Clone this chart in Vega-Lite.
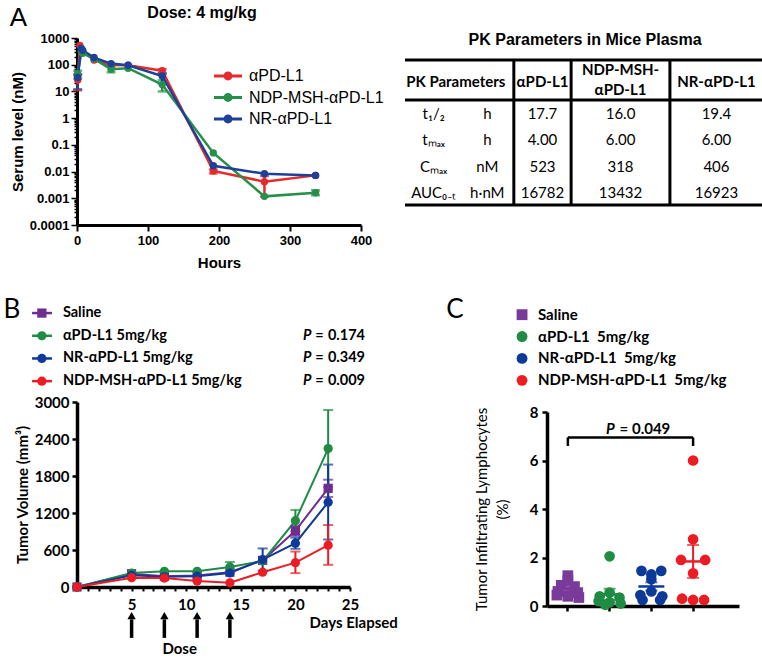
{
  "$schema": "https://vega.github.io/schema/vega-lite/v6.json",
  "padding": {"left": 3, "top": 4, "right": 2, "bottom": 0},
  "background": "white",
  "config": {
    "view": {"stroke": "transparent"},
    "font": "Lato",
    "axis": {"grid": false, "domainColor": "black", "tickColor": "black", "labelColor": "black", "titleColor": "black", "labelFontWeight": "bold", "titleFontWeight": "bold", "labelFlush": false, "labelOverlap": false, "labelBound": false},
    "title": {"color": "black"},
    "legend": {"labelColor": "black"}
  },
  "datasets": {
    "pk": [
      {"s": "αPD-L1", "t": 1, "v": 27, "lo": 11, "hi": 40},
      {"s": "αPD-L1", "t": 4, "v": 523},
      {"s": "αPD-L1", "t": 8, "v": 330},
      {"s": "αPD-L1", "t": 24, "v": 150},
      {"s": "αPD-L1", "t": 48, "v": 98},
      {"s": "αPD-L1", "t": 72, "v": 95},
      {"s": "αPD-L1", "t": 120, "v": 60, "lo": 45, "hi": 68},
      {"s": "αPD-L1", "t": 192, "v": 0.0105, "lo": 0.0085, "hi": 0.012},
      {"s": "αPD-L1", "t": 264, "v": 0.0042, "lo": 0.00115, "hi": 0.0068},
      {"s": "αPD-L1", "t": 336, "v": 0.0072},
      {"s": "NDP-MSH-αPD-L1", "t": 1, "v": 45, "lo": 30, "hi": 60},
      {"s": "NDP-MSH-αPD-L1", "t": 6, "v": 318},
      {"s": "NDP-MSH-αPD-L1", "t": 8, "v": 270},
      {"s": "NDP-MSH-αPD-L1", "t": 24, "v": 165},
      {"s": "NDP-MSH-αPD-L1", "t": 48, "v": 68, "lo": 52, "hi": 84},
      {"s": "NDP-MSH-αPD-L1", "t": 72, "v": 74},
      {"s": "NDP-MSH-αPD-L1", "t": 120, "v": 18, "lo": 10, "hi": 26},
      {"s": "NDP-MSH-αPD-L1", "t": 192, "v": 0.05},
      {"s": "NDP-MSH-αPD-L1", "t": 264, "v": 0.00118},
      {"s": "NDP-MSH-αPD-L1", "t": 336, "v": 0.0016, "lo": 0.0013, "hi": 0.002},
      {"s": "NR-αPD-L1", "t": 1, "v": 33, "lo": 12, "hi": 44},
      {"s": "NR-αPD-L1", "t": 6, "v": 406},
      {"s": "NR-αPD-L1", "t": 8, "v": 350},
      {"s": "NR-αPD-L1", "t": 24, "v": 185},
      {"s": "NR-αPD-L1", "t": 48, "v": 110},
      {"s": "NR-αPD-L1", "t": 72, "v": 96},
      {"s": "NR-αPD-L1", "t": 120, "v": 38, "lo": 20, "hi": 48},
      {"s": "NR-αPD-L1", "t": 192, "v": 0.0165},
      {"s": "NR-αPD-L1", "t": 264, "v": 0.0083},
      {"s": "NR-αPD-L1", "t": 336, "v": 0.0072}
    ],
    "tbl": [
      {"i": 1, "param": "t₁/₂", "unit": "h", "a": "17.7", "n": "16.0", "r": "19.4"},
      {"i": 2, "param": "tₘₐₓ", "unit": "h", "a": "4.00", "n": "6.00", "r": "6.00"},
      {"i": 3, "param": "Cₘₐₓ", "unit": "nM", "a": "523", "n": "318", "r": "406"},
      {"i": 4, "param": "AUC₀₋ₜ", "unit": "h·nM", "a": "16782", "n": "13432", "r": "16923"}
    ],
    "tumor": [
      {"s": "Saline", "d": 0, "v": 0},
      {"s": "Saline", "d": 5, "v": 216},
      {"s": "Saline", "d": 8, "v": 173},
      {"s": "Saline", "d": 11, "v": 185},
      {"s": "Saline", "d": 14, "v": 240},
      {"s": "Saline", "d": 17, "v": 432},
      {"s": "Saline", "d": 20, "v": 912, "lo": 830, "hi": 995},
      {"s": "Saline", "d": 23, "v": 1600, "lo": 1460, "hi": 1740},
      {"s": "αPD-L1 5mg/kg", "d": 0, "v": 0},
      {"s": "αPD-L1 5mg/kg", "d": 5, "v": 227},
      {"s": "αPD-L1 5mg/kg", "d": 8, "v": 254},
      {"s": "αPD-L1 5mg/kg", "d": 11, "v": 254},
      {"s": "αPD-L1 5mg/kg", "d": 14, "v": 324, "lo": 243, "hi": 405},
      {"s": "αPD-L1 5mg/kg", "d": 17, "v": 421},
      {"s": "αPD-L1 5mg/kg", "d": 20, "v": 1075, "lo": 900, "hi": 1250},
      {"s": "αPD-L1 5mg/kg", "d": 23, "v": 2245, "lo": 1620, "hi": 2870},
      {"s": "NR-αPD-L1 5mg/kg", "d": 0, "v": 0},
      {"s": "NR-αPD-L1 5mg/kg", "d": 5, "v": 189},
      {"s": "NR-αPD-L1 5mg/kg", "d": 8, "v": 165},
      {"s": "NR-αPD-L1 5mg/kg", "d": 11, "v": 175},
      {"s": "NR-αPD-L1 5mg/kg", "d": 14, "v": 227},
      {"s": "NR-αPD-L1 5mg/kg", "d": 17, "v": 445, "lo": 265, "hi": 625},
      {"s": "NR-αPD-L1 5mg/kg", "d": 20, "v": 710, "lo": 620, "hi": 800},
      {"s": "NR-αPD-L1 5mg/kg", "d": 23, "v": 1375, "lo": 770, "hi": 1985},
      {"s": "NDP-MSH-αPD-L1 5mg/kg", "d": 0, "v": 0},
      {"s": "NDP-MSH-αPD-L1 5mg/kg", "d": 5, "v": 151},
      {"s": "NDP-MSH-αPD-L1 5mg/kg", "d": 8, "v": 145},
      {"s": "NDP-MSH-αPD-L1 5mg/kg", "d": 11, "v": 97},
      {"s": "NDP-MSH-αPD-L1 5mg/kg", "d": 14, "v": 68},
      {"s": "NDP-MSH-αPD-L1 5mg/kg", "d": 17, "v": 240},
      {"s": "NDP-MSH-αPD-L1 5mg/kg", "d": 20, "v": 395, "lo": 225, "hi": 575},
      {"s": "NDP-MSH-αPD-L1 5mg/kg", "d": 23, "v": 678, "lo": 360, "hi": 1005}
    ],
    "dose": [{"d": 5}, {"d": 8}, {"d": 11}, {"d": 14}],
    "series": [
      {"s": "Saline", "i": 1, "c": "Saline"},
      {"s": "αPD-L1 5mg/kg", "i": 2, "p": "0.174", "c": "αPD-L1 \u00a05mg/kg"},
      {"s": "NR-αPD-L1 5mg/kg", "i": 3, "p": "0.349", "c": "NR-αPD-L1 \u00a05mg/kg"},
      {"s": "NDP-MSH-αPD-L1 5mg/kg", "i": 4, "p": "0.009", "c": "NDP-MSH-αPD-L1 \u00a05mg/kg"}
    ],
    "til": [
      {"g": "Saline", "v": 1.25, "slot": 0},
      {"g": "Saline", "v": 1.05, "slot": 0},
      {"g": "Saline", "v": 0.85, "slot": -0.6},
      {"g": "Saline", "v": 0.8, "slot": 0.6},
      {"g": "Saline", "v": 0.6, "slot": -0.9},
      {"g": "Saline", "v": 0.55, "slot": 0.9},
      {"g": "Saline", "v": 0.45, "slot": -1},
      {"g": "Saline", "v": 0.4, "slot": 0},
      {"g": "Saline", "v": 0.35, "slot": 1},
      {"g": "αPD-L1 5mg/kg", "v": 2.05, "slot": 0},
      {"g": "αPD-L1 5mg/kg", "v": 0.55, "slot": 0},
      {"g": "αPD-L1 5mg/kg", "v": 0.4, "slot": -0.9},
      {"g": "αPD-L1 5mg/kg", "v": 0.35, "slot": 0.9},
      {"g": "αPD-L1 5mg/kg", "v": 0.2, "slot": -1},
      {"g": "αPD-L1 5mg/kg", "v": 0.15, "slot": 0},
      {"g": "αPD-L1 5mg/kg", "v": 0.1, "slot": 1},
      {"g": "αPD-L1 5mg/kg", "v": 0.05, "slot": -0.4},
      {"g": "NR-αPD-L1 5mg/kg", "v": 1.45, "slot": -0.9},
      {"g": "NR-αPD-L1 5mg/kg", "v": 1.45, "slot": 0.9},
      {"g": "NR-αPD-L1 5mg/kg", "v": 1.3, "slot": 0},
      {"g": "NR-αPD-L1 5mg/kg", "v": 1.1, "slot": 0},
      {"g": "NR-αPD-L1 5mg/kg", "v": 0.6, "slot": 0},
      {"g": "NR-αPD-L1 5mg/kg", "v": 0.45, "slot": -1},
      {"g": "NR-αPD-L1 5mg/kg", "v": 0.4, "slot": 1},
      {"g": "NR-αPD-L1 5mg/kg", "v": 0.25, "slot": -0.8},
      {"g": "NR-αPD-L1 5mg/kg", "v": 0.25, "slot": 0.8},
      {"g": "NDP-MSH-αPD-L1 5mg/kg", "v": 6.0, "slot": 0},
      {"g": "NDP-MSH-αPD-L1 5mg/kg", "v": 2.75, "slot": 0},
      {"g": "NDP-MSH-αPD-L1 5mg/kg", "v": 1.9, "slot": -1.1},
      {"g": "NDP-MSH-αPD-L1 5mg/kg", "v": 1.9, "slot": 1.1},
      {"g": "NDP-MSH-αPD-L1 5mg/kg", "v": 1.35, "slot": 0},
      {"g": "NDP-MSH-αPD-L1 5mg/kg", "v": 0.3, "slot": -1},
      {"g": "NDP-MSH-αPD-L1 5mg/kg", "v": 0.25, "slot": 0},
      {"g": "NDP-MSH-αPD-L1 5mg/kg", "v": 0.25, "slot": 1}
    ]
  },
  "resolve": {"scale": {"x": "independent", "y": "independent", "color": "independent", "shape": "independent"}},
  "spacing": 22,
  "vconcat": [
    {
      "title": {"text": "A", "anchor": "start", "frame": "bounds", "font": "Liberation Sans", "fontSize": 26, "fontWeight": "normal", "offset": 0, "dy": 26},
      "resolve": {"scale": {"x": "independent", "y": "independent", "color": "independent", "shape": "independent"}},
      "spacing": 18,
      "hconcat": [
        {
          "width": 284, "height": 187,
          "title": {"text": "Dose: 4 mg/kg", "font": "Liberation Sans", "fontSize": 16, "fontWeight": "bold", "anchor": "middle", "dx": -17, "offset": 11},
          "data": {"name": "pk"},
          "resolve": {"scale": {"color": "independent"}},
          "layer": [
            {
              "transform": [{"filter": "isValid(datum.lo)"}],
              "mark": {"type": "errorbar", "ticks": true, "size": 9, "thickness": 2.5},
              "encoding": {
                "x": {"field": "t", "type": "quantitative", "scale": {"domain": [0, 400], "nice": false},
                  "axis": {"values": [0, 100, 200, 300, 400], "title": "Hours", "labelFont": "Liberation Sans", "labelFontSize": 13, "titleFont": "Liberation Sans", "titleFontSize": 15, "domainWidth": 3, "tickWidth": 2, "tickSize": 6, "labelPadding": 3, "titlePadding": 8}},
                "y": {"field": "lo", "type": "quantitative", "scale": {"type": "log", "domain": [0.0001, 1000], "nice": false},
                  "axis": {"title": "Serum level (nM)", "format": "~g", "labelOverlap": false,
                    "values": [0.0001, 0.0002, 0.0003, 0.0004, 0.0005, 0.0006, 0.0007, 0.0008, 0.0009, 0.001, 0.002, 0.003, 0.004, 0.005, 0.006, 0.007, 0.008, 0.009, 0.01, 0.02, 0.03, 0.04, 0.05, 0.06, 0.07, 0.08, 0.09, 0.1, 0.2, 0.3, 0.4, 0.5, 0.6, 0.7, 0.8, 0.9, 1, 2, 3, 4, 5, 6, 7, 8, 9, 10, 20, 30, 40, 50, 60, 70, 80, 90, 100, 200, 300, 400, 500, 600, 700, 800, 900, 1000],
                    "labelExpr": "abs(log(datum.value)/LN10 - round(log(datum.value)/LN10)) < 0.001 ? datum.label : ''",
                    "tickSize": {"condition": {"test": "abs(log(datum.value)/LN10 - round(log(datum.value)/LN10)) < 0.001", "value": 6}, "value": 3},
                    "labelFont": "Liberation Sans", "labelFontSize": 13, "titleFont": "Liberation Sans", "titleFontSize": 15, "domainWidth": 3, "tickWidth": 1.5, "labelPadding": 2, "titlePadding": 4}},
                "y2": {"field": "hi"},
                "color": {"field": "s", "type": "nominal", "scale": {"domain": ["αPD-L1", "NDP-MSH-αPD-L1", "NR-αPD-L1"], "range": ["#e52a2d", "#26904a", "#1d4099"]}, "legend": null}
              }
            },
            {
              "mark": {"type": "line", "strokeWidth": 2.5},
              "encoding": {
                "x": {"field": "t", "type": "quantitative", "scale": {"domain": [0, 400], "nice": false}},
                "y": {"field": "v", "type": "quantitative", "scale": {"type": "log", "domain": [0.0001, 1000], "nice": false}},
                "color": {"field": "s", "type": "nominal", "scale": {"domain": ["αPD-L1", "NDP-MSH-αPD-L1", "NR-αPD-L1"], "range": ["#e52a2d", "#26904a", "#1d4099"]}, "legend": null}
              }
            },
            {
              "mark": {"type": "point", "filled": true, "size": 55, "opacity": 1},
              "encoding": {
                "x": {"field": "t", "type": "quantitative", "scale": {"domain": [0, 400], "nice": false}},
                "y": {"field": "v", "type": "quantitative", "scale": {"type": "log", "domain": [0.0001, 1000], "nice": false}},
                "color": {"field": "s", "type": "nominal", "scale": {"domain": ["αPD-L1", "NDP-MSH-αPD-L1", "NR-αPD-L1"], "range": ["#e52a2d", "#26904a", "#1d4099"]},
                  "legend": {"orient": "none", "legendX": 143, "legendY": 30, "title": null, "padding": 0,
                    "symbolType": "M-2,-0.2H2V0.2H-2Z M-0.64,0A0.64,0.64,0,1,1,0.64,0A0.64,0.64,0,1,1,-0.64,0Z",
                    "symbolSize": 196, "symbolStrokeWidth": 0, "labelFont": "Liberation Sans", "labelFontSize": 16, "labelOffset": 13, "rowPadding": 5.5}}
              }
            }
          ]
        },
        {
          "width": 358, "height": 172,
          "data": {"name": "tbl"},
          "layer": [
            {"data": {"values": [{}]}, "mark": {"type": "rule", "strokeWidth": 3, "color": "black"},
              "encoding": {"x": {"datum": 0, "type": "quantitative", "scale": {"domain": [0, 100], "nice": false, "zero": false}, "axis": null}, "x2": {"datum": 100},
                "y": {"datum": -1.05, "type": "quantitative", "scale": {"domain": [-1.89, 4.65], "reverse": true, "nice": false, "zero": false}, "axis": null}}},
            {"data": {"values": [{}]}, "mark": {"type": "rule", "strokeWidth": 3, "color": "black"},
              "encoding": {"x": {"datum": 0, "type": "quantitative"}, "x2": {"datum": 100}, "y": {"datum": 0.47, "type": "quantitative"}}},
            {"data": {"values": [{}]}, "mark": {"type": "rule", "strokeWidth": 3, "color": "black"},
              "encoding": {"x": {"datum": 0, "type": "quantitative"}, "x2": {"datum": 100}, "y": {"datum": 4.46, "type": "quantitative"}}},
            {"data": {"values": [{}]}, "mark": {"type": "rule", "strokeWidth": 3, "color": "black"},
              "encoding": {"x": {"datum": 30.4, "type": "quantitative"}, "y": {"datum": -1.05, "type": "quantitative"}, "y2": {"datum": 4.46}}},
            {"data": {"values": [{}]}, "mark": {"type": "rule", "strokeWidth": 3, "color": "black"},
              "encoding": {"x": {"datum": 46.4, "type": "quantitative"}, "y": {"datum": -1.05, "type": "quantitative"}, "y2": {"datum": 4.46}}},
            {"data": {"values": [{}]}, "mark": {"type": "rule", "strokeWidth": 3, "color": "black"},
              "encoding": {"x": {"datum": 74, "type": "quantitative"}, "y": {"datum": -1.05, "type": "quantitative"}, "y2": {"datum": 4.46}}},
            {"data": {"values": [{}]}, "mark": {"type": "text", "text": "PK Parameters in Mice Plasma", "font": "Liberation Sans", "fontSize": 16, "fontWeight": "bold"},
              "encoding": {"x": {"datum": 50.3, "type": "quantitative"}, "y": {"datum": -1.81, "type": "quantitative"}}},
            {"data": {"values": [{}]}, "mark": {"type": "text", "text": "PK Parameters", "fontSize": 15, "fontWeight": "bold"},
              "encoding": {"x": {"datum": 14.2, "type": "quantitative"}, "y": {"datum": -0.22, "type": "quantitative"}}},
            {"data": {"values": [{}]}, "mark": {"type": "text", "text": "αPD-L1", "fontSize": 15, "fontWeight": "bold"},
              "encoding": {"x": {"datum": 38.4, "type": "quantitative"}, "y": {"datum": -0.22, "type": "quantitative"}}},
            {"data": {"values": [{}]}, "mark": {"type": "text", "text": "NDP-MSH-", "fontSize": 15, "fontWeight": "bold"},
              "encoding": {"x": {"datum": 60.2, "type": "quantitative"}, "y": {"datum": -0.67, "type": "quantitative"}}},
            {"data": {"values": [{}]}, "mark": {"type": "text", "text": "αPD-L1", "fontSize": 15, "fontWeight": "bold"},
              "encoding": {"x": {"datum": 60.2, "type": "quantitative"}, "y": {"datum": 0.09, "type": "quantitative"}}},
            {"data": {"values": [{}]}, "mark": {"type": "text", "text": "NR-αPD-L1", "fontSize": 15, "fontWeight": "bold"},
              "encoding": {"x": {"datum": 87.0, "type": "quantitative"}, "y": {"datum": -0.22, "type": "quantitative"}}},
            {"mark": {"type": "text", "fontSize": 15},
              "encoding": {"x": {"datum": 8, "type": "quantitative"}, "y": {"field": "i", "type": "quantitative"}, "text": {"field": "param"}}},
            {"mark": {"type": "text", "fontSize": 15},
              "encoding": {"x": {"datum": 23, "type": "quantitative"}, "y": {"field": "i", "type": "quantitative"}, "text": {"field": "unit"}}},
            {"mark": {"type": "text", "fontSize": 15},
              "encoding": {"x": {"datum": 38.4, "type": "quantitative"}, "y": {"field": "i", "type": "quantitative"}, "text": {"field": "a"}}},
            {"mark": {"type": "text", "fontSize": 15},
              "encoding": {"x": {"datum": 60.2, "type": "quantitative"}, "y": {"field": "i", "type": "quantitative"}, "text": {"field": "n"}}},
            {"mark": {"type": "text", "fontSize": 15},
              "encoding": {"x": {"datum": 87.0, "type": "quantitative"}, "y": {"field": "i", "type": "quantitative"}, "text": {"field": "r"}}}
          ]
        }
      ]
    },
    {
      "resolve": {"scale": {"x": "independent", "y": "independent", "color": "independent", "shape": "independent"}},
      "spacing": 46,
      "hconcat": [
        {
          "resolve": {"scale": {"x": "independent", "y": "independent", "color": "independent", "shape": "independent"}},
          "spacing": 3,
          "vconcat": [
            {
              "width": 288, "height": 96,
              "data": {"name": "series"},
              "encoding": {"y": {"field": "i", "type": "quantitative", "scale": {"domain": [0.16, 4.39], "reverse": true, "nice": false, "zero": false}, "axis": null}},
              "layer": [
                {"mark": {"type": "rule", "strokeWidth": 2.5},
                  "encoding": {"x": {"datum": -15.6, "type": "quantitative", "scale": {"domain": [0, 100], "nice": false, "zero": false}, "axis": null}, "x2": {"datum": -8.7},
                    "color": {"field": "s", "type": "nominal", "scale": {"domain": ["Saline", "αPD-L1 5mg/kg", "NR-αPD-L1 5mg/kg", "NDP-MSH-αPD-L1 5mg/kg"], "range": ["#6f2c91", "#1f8b43", "#0d3a99", "#ec1c24"]}, "legend": null}}},
                {"mark": {"type": "point", "filled": true, "size": 85, "opacity": 1},
                  "encoding": {"x": {"datum": -12.2, "type": "quantitative"},
                    "color": {"field": "s", "type": "nominal", "scale": {"domain": ["Saline", "αPD-L1 5mg/kg", "NR-αPD-L1 5mg/kg", "NDP-MSH-αPD-L1 5mg/kg"], "range": ["#6f2c91", "#1f8b43", "#0d3a99", "#ec1c24"]}, "legend": null},
                    "shape": {"field": "s", "type": "nominal", "scale": {"domain": ["Saline", "αPD-L1 5mg/kg", "NR-αPD-L1 5mg/kg", "NDP-MSH-αPD-L1 5mg/kg"], "range": ["square", "circle", "circle", "circle"]}, "legend": null}}},
                {"mark": {"type": "text", "align": "left", "fontSize": 14.5, "fontWeight": "bold"},
                  "encoding": {"x": {"datum": -4.9, "type": "quantitative"}, "text": {"field": "s"}}},
                {"transform": [{"filter": "isValid(datum.p)"}],
                  "mark": {"type": "text", "text": "P", "align": "right", "fontSize": 14.5, "fontWeight": "bold", "fontStyle": "italic"},
                  "encoding": {"x": {"datum": 81.4, "type": "quantitative"}}},
                {"transform": [{"filter": "isValid(datum.p)"}],
                  "mark": {"type": "text", "text": "=", "align": "center", "fontSize": 14.5, "fontWeight": "bold"},
                  "encoding": {"x": {"datum": 84.2, "type": "quantitative"}}},
                {"transform": [{"filter": "isValid(datum.p)"}],
                  "mark": {"type": "text", "align": "right", "fontSize": 14.5, "fontWeight": "bold"},
                  "encoding": {"x": {"datum": 100, "type": "quantitative"}, "text": {"field": "p"}}},
                {"transform": [{"filter": "datum.i === 1"}],
                  "mark": {"type": "text", "text": "B", "fontSize": 26, "dy": -3, "color": "black"},
                  "encoding": {"x": {"datum": -22.6, "type": "quantitative"}}}
              ]
            },
            {
              "width": 273, "height": 185,
              "layer": [
                {"data": {"name": "tumor"},
                  "mark": {"type": "line", "strokeWidth": 2},
                  "encoding": {
                    "x": {"field": "d", "type": "quantitative", "scale": {"domain": [0, 25], "nice": false},
                      "axis": {"values": [1, 2, 3, 4, 5, 6, 7, 8, 9, 10, 11, 12, 13, 14, 15, 16, 17, 18, 19, 20, 21, 22, 23, 24, 25], "tickCount": 40, "format": "d", "labelExpr": "datum.value % 5 === 0 ? datum.label : ''", "labelOverlap": false, "title": null, "labelFontSize": 15, "tickSize": 4, "tickWidth": 2, "domainWidth": 3.5, "labelPadding": 6}},
                    "y": {"field": "v", "type": "quantitative", "scale": {"domain": [0, 3000], "nice": false},
                      "axis": {"values": [0, 600, 1200, 1800, 2400, 3000], "tickCount": 12, "format": "d", "labelOverlap": false, "title": "Tumor Volume (mm³)", "labelFontSize": 15, "titleFontSize": 15, "tickSize": 5, "tickWidth": 2.5, "domainWidth": 3.5, "labelPadding": 3, "titlePadding": 4}},
                    "color": {"field": "s", "type": "nominal", "scale": {"domain": ["Saline", "αPD-L1 5mg/kg", "NR-αPD-L1 5mg/kg", "NDP-MSH-αPD-L1 5mg/kg"], "range": ["#6f2c91", "#1f8b43", "#0d3a99", "#ec1c24"]}, "legend": null}}},
                {"data": {"name": "tumor"},
                  "transform": [{"filter": "isValid(datum.lo)"}],
                  "mark": {"type": "errorbar", "ticks": true, "size": 10, "thickness": 2},
                  "encoding": {"x": {"field": "d", "type": "quantitative"},
                    "y": {"field": "lo", "type": "quantitative", "title": "Tumor Volume (mm³)"}, "y2": {"field": "hi"},
                    "color": {"field": "s", "type": "nominal", "scale": {"domain": ["Saline", "αPD-L1 5mg/kg", "NR-αPD-L1 5mg/kg", "NDP-MSH-αPD-L1 5mg/kg"], "range": ["#6f2c91", "#1f8b43", "#0d3a99", "#ec1c24"]}, "legend": null}}},
                {"data": {"name": "tumor"},
                  "mark": {"type": "point", "filled": true, "size": 85, "opacity": 1},
                  "encoding": {"x": {"field": "d", "type": "quantitative"},
                    "y": {"field": "v", "type": "quantitative"},
                    "color": {"field": "s", "type": "nominal", "scale": {"domain": ["Saline", "αPD-L1 5mg/kg", "NR-αPD-L1 5mg/kg", "NDP-MSH-αPD-L1 5mg/kg"], "range": ["#6f2c91", "#1f8b43", "#0d3a99", "#ec1c24"]}, "legend": null},
                    "shape": {"field": "s", "type": "nominal", "scale": {"domain": ["Saline", "αPD-L1 5mg/kg", "NR-αPD-L1 5mg/kg", "NDP-MSH-αPD-L1 5mg/kg"], "range": ["square", "circle", "circle", "circle"]}, "legend": null}}},
                {"data": {"name": "dose"},
                  "mark": {"type": "rule", "strokeWidth": 3.5, "color": "black"},
                  "encoding": {"x": {"field": "d", "type": "quantitative"}, "y": {"datum": -825, "type": "quantitative"}, "y2": {"datum": -525}}},
                {"data": {"name": "dose"},
                  "mark": {"type": "point", "shape": "triangle-up", "filled": true, "size": 70, "color": "black", "opacity": 1},
                  "encoding": {"x": {"field": "d", "type": "quantitative"}, "y": {"datum": -465, "type": "quantitative"}}},
                {"data": {"values": [{}]},
                  "mark": {"type": "text", "text": "Dose", "fontSize": 15, "fontWeight": "bold"},
                  "encoding": {"x": {"datum": 9.4, "type": "quantitative"}, "y": {"datum": -1000, "type": "quantitative"}}},
                {"data": {"values": [{}]},
                  "mark": {"type": "text", "text": "Days Elapsed", "align": "left", "fontSize": 15, "fontWeight": "bold"},
                  "encoding": {"x": {"datum": 21.3, "type": "quantitative"}, "y": {"datum": -585, "type": "quantitative"}}}
              ]
            }
          ]
        },
        {
          "resolve": {"scale": {"x": "independent", "y": "independent", "color": "independent", "shape": "independent"}},
          "spacing": 3,
          "vconcat": [
            {
              "width": 192, "height": 106,
              "data": {"name": "series"},
              "encoding": {"y": {"field": "i", "type": "quantitative", "scale": {"domain": [0.055, 4.9], "reverse": true, "nice": false, "zero": false}, "axis": null}},
              "layer": [
                {"mark": {"type": "point", "filled": true, "size": 118, "opacity": 1},
                  "encoding": {"x": {"datum": -13.0, "type": "quantitative", "scale": {"domain": [0, 100], "nice": false, "zero": false}, "axis": null},
                    "color": {"field": "s", "type": "nominal", "scale": {"domain": ["Saline", "αPD-L1 5mg/kg", "NR-αPD-L1 5mg/kg", "NDP-MSH-αPD-L1 5mg/kg"], "range": ["#7a3a9a", "#1f8b43", "#0d3a99", "#ec1c24"]}, "legend": null},
                    "shape": {"field": "s", "type": "nominal", "scale": {"domain": ["Saline", "αPD-L1 5mg/kg", "NR-αPD-L1 5mg/kg", "NDP-MSH-αPD-L1 5mg/kg"], "range": ["square", "circle", "circle", "circle"]}, "legend": null}}},
                {"mark": {"type": "text", "align": "left", "fontSize": 15, "fontWeight": "bold"},
                  "encoding": {"x": {"datum": -4.7, "type": "quantitative"}, "text": {"field": "c"}}},
                {"transform": [{"filter": "datum.i === 1"}],
                  "mark": {"type": "text", "text": "C", "fontSize": 26, "dy": -5, "color": "black"},
                  "encoding": {"x": {"datum": -47.9, "type": "quantitative"}}}
              ]
            },
            {
              "width": 192, "height": 194,
              "encoding": {
                "x": {"field": "g", "type": "nominal", "scale": {"domain": ["Saline", "αPD-L1 5mg/kg", "NR-αPD-L1 5mg/kg", "NDP-MSH-αPD-L1 5mg/kg"], "paddingInner": 0, "paddingOuter": 0.3, "align": 0},
                  "axis": {"labels": false, "title": null, "tickSize": 5, "tickWidth": 2.5, "domainWidth": 3.5}}
              },
              "layer": [
                {"data": {"name": "til"},
                  "mark": {"type": "errorbar", "extent": "stderr", "ticks": true, "size": 12, "thickness": 2},
                  "encoding": {"y": {"field": "v", "type": "quantitative", "scale": {"domain": [0, 8], "nice": false},
                      "axis": {"values": [0, 2, 4, 6, 8], "tickCount": 10, "title": ["Tumor Infiltrating Lymphocytes", "(%)"], "titleFontWeight": "normal", "titleFontSize": 15, "titleLineHeight": 21, "labelFontSize": 15, "tickSize": 5, "tickWidth": 2.5, "domainWidth": 3.5, "labelPadding": 4, "titlePadding": 19}},
                    "color": {"field": "g", "type": "nominal", "scale": {"domain": ["Saline", "αPD-L1 5mg/kg", "NR-αPD-L1 5mg/kg", "NDP-MSH-αPD-L1 5mg/kg"], "range": ["#7a3a9a", "#1f8b43", "#0d3a99", "#ec1c24"]}, "legend": null}}},
                {"data": {"name": "til"},
                  "mark": {"type": "point", "filled": true, "size": 115, "opacity": 1},
                  "encoding": {
                    "xOffset": {"field": "slot", "type": "quantitative", "scale": {"domain": [-1.9, 1.9], "nice": false, "zero": false}},
                    "y": {"field": "v", "type": "quantitative", "scale": {"domain": [0, 8], "nice": false}},
                    "color": {"field": "g", "type": "nominal", "scale": {"domain": ["Saline", "αPD-L1 5mg/kg", "NR-αPD-L1 5mg/kg", "NDP-MSH-αPD-L1 5mg/kg"], "range": ["#7a3a9a", "#1f8b43", "#0d3a99", "#ec1c24"]}, "legend": null},
                    "shape": {"field": "g", "type": "nominal", "scale": {"domain": ["Saline", "αPD-L1 5mg/kg", "NR-αPD-L1 5mg/kg", "NDP-MSH-αPD-L1 5mg/kg"], "range": ["square", "circle", "circle", "circle"]}, "legend": null}}},
                {"data": {"name": "til"},
                  "mark": {"type": "tick", "thickness": 2.5, "size": 26},
                  "encoding": {"y": {"aggregate": "mean", "field": "v", "type": "quantitative", "scale": {"domain": [0, 8], "nice": false}},
                    "color": {"field": "g", "type": "nominal", "scale": {"domain": ["Saline", "αPD-L1 5mg/kg", "NR-αPD-L1 5mg/kg", "NDP-MSH-αPD-L1 5mg/kg"], "range": ["#7a3a9a", "#1f8b43", "#0d3a99", "#ec1c24"]}, "legend": null}}},
                {"data": {"values": [{"g": "Saline"}, {"g": "NDP-MSH-αPD-L1 5mg/kg"}]},
                  "mark": {"type": "rule", "strokeWidth": 2.5, "color": "black"},
                  "encoding": {"y": {"datum": 6.6, "type": "quantitative", "scale": {"domain": [0, 8], "nice": false}}, "y2": {"datum": 6.95}}},
                {"data": {"values": [{}]},
                  "mark": {"type": "rule", "strokeWidth": 2.5, "color": "black"},
                  "encoding": {"x": {"datum": "Saline", "type": "nominal"}, "x2": {"datum": "NDP-MSH-αPD-L1 5mg/kg"},
                    "y": {"datum": 6.95, "type": "quantitative", "scale": {"domain": [0, 8], "nice": false}}}},
                {"data": {"values": [{}]},
                  "mark": {"type": "text", "text": "P", "align": "right", "dx": 5, "fontSize": 15, "fontWeight": "bold", "fontStyle": "italic"},
                  "encoding": {"x": {"datum": "αPD-L1 5mg/kg", "type": "nominal"},
                    "y": {"datum": 7.3, "type": "quantitative", "scale": {"domain": [0, 8], "nice": false}}}},
                {"data": {"values": [{}]},
                  "mark": {"type": "text", "text": "= 0.049", "align": "left", "dx": 10, "fontSize": 15, "fontWeight": "bold"},
                  "encoding": {"x": {"datum": "αPD-L1 5mg/kg", "type": "nominal"},
                    "y": {"datum": 7.3, "type": "quantitative", "scale": {"domain": [0, 8], "nice": false}}}}
              ]
            }
          ]
        }
      ]
    }
  ]
}
